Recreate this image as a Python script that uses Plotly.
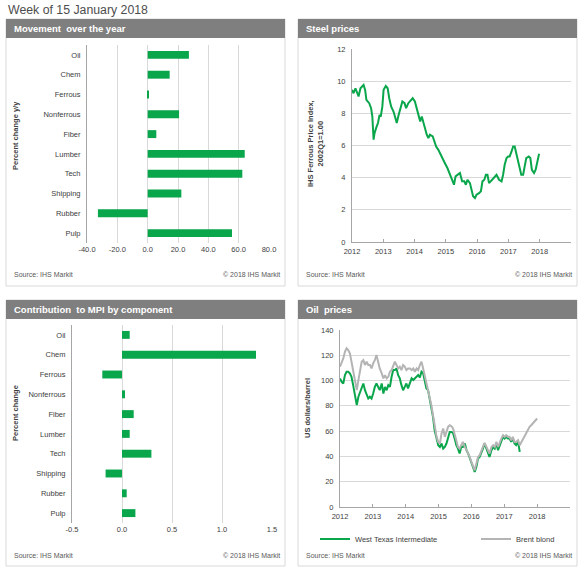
import plotly.graph_objects as go

W, H = 581, 574
FONT = "Liberation Sans, Arial, sans-serif"
GREEN = "#0aa64c"
GREY_LINE = "#b4b4b4"
GRID = "#d9d9d9"
TXT = "#404040"

# --- data ---
components = ["Oil", "Chem", "Ferrous", "Nonferrous", "Fiber",
              "Lumber", "Tech", "Shipping", "Rubber", "Pulp"]
movement_yoy = [27.2, 14.5, 0.5, 20.7, 5.7, 64.0, 62.4, 22.2, -32.8, 55.6]
contribution = [0.077, 1.34, -0.197, 0.03, 0.117, 0.077, 0.294, -0.164, 0.047, 0.134]

movement_ticks = [-40, -20, 0, 20, 40, 60, 80]
movement_ticktext = ["-40.0", "-20.0", "0.0", "20.0", "40.0", "60.0", "80.0"]
contribution_ticks = [-0.5, 0, 0.5, 1.0, 1.5]
contribution_ticktext = ["-0.5", "0.0", "0.5", "1.0", "1.5"]

steel_years = [2012.00, 2012.05, 2012.11, 2012.16, 2012.21, 2012.27, 2012.32, 2012.37, 2012.42, 2012.46,
               2012.50, 2012.55, 2012.61, 2012.65, 2012.69, 2012.72, 2012.77, 2012.83, 2012.88, 2012.92,
               2012.97, 2013.01, 2013.08, 2013.14, 2013.19, 2013.25, 2013.33, 2013.39, 2013.43, 2013.49,
               2013.54, 2013.61, 2013.68, 2013.73, 2013.80, 2013.88, 2013.94, 2014.01, 2014.07, 2014.13,
               2014.18, 2014.23, 2014.28, 2014.34, 2014.39, 2014.44, 2014.49, 2014.58, 2014.63, 2014.69,
               2014.76, 2014.83, 2014.90, 2014.97, 2015.05, 2015.11, 2015.18, 2015.26, 2015.31, 2015.38,
               2015.45, 2015.52, 2015.59, 2015.64, 2015.69, 2015.77, 2015.82, 2015.87, 2015.93, 2015.98,
               2016.06, 2016.12, 2016.17, 2016.23, 2016.28, 2016.33, 2016.38, 2016.46, 2016.53, 2016.62,
               2016.70, 2016.78, 2016.83, 2016.88, 2016.94, 2016.99, 2017.04, 2017.10, 2017.15, 2017.20,
               2017.25, 2017.31, 2017.36, 2017.41, 2017.47, 2017.52, 2017.57, 2017.65, 2017.70, 2017.75,
               2017.82, 2017.87, 2017.92, 2017.98]
steel_index = [9.46, 9.25, 9.56, 9.35, 9.05, 9.56, 9.67, 9.77, 9.46, 8.84,
               8.74, 8.63, 8.32, 7.8, 6.36, 6.77, 7.08, 7.4, 7.9, 7.8,
               8.43, 9.46, 9.7, 9.56, 8.94, 8.43, 8.1, 7.6, 7.4, 7.9,
               8.2, 8.74, 8.63, 8.32, 8.63, 8.84, 8.94, 8.74, 8.32, 7.9,
               7.5, 7.8, 7.4, 7.08, 6.67, 6.46, 6.67, 6.56, 6.25, 5.94,
               5.73, 5.42, 5.11, 4.9, 4.6, 4.29, 3.98, 3.56, 4.08, 4.18,
               4.29, 3.77, 3.77, 3.56, 3.87, 3.66, 3.15, 2.84, 2.73, 2.94,
               3.04, 3.15, 3.77, 3.87, 4.18, 4.18, 3.66, 3.87, 3.98, 4.18,
               3.87, 3.77, 4.18, 4.8, 5.22, 5.32, 5.32, 5.63, 5.94, 5.94,
               5.53, 4.9, 4.49, 4.18, 4.18, 4.7, 5.22, 5.32, 5.22, 4.49,
               4.29, 4.49, 5.0, 5.49]

oil_years = [2012.00, 2012.05, 2012.10, 2012.15, 2012.20, 2012.25, 2012.30, 2012.35, 2012.40, 2012.46,
             2012.51, 2012.56, 2012.61, 2012.66, 2012.71, 2012.76, 2012.81, 2012.86, 2012.91, 2012.96,
             2013.01, 2013.06, 2013.11, 2013.16, 2013.21, 2013.27, 2013.32, 2013.37, 2013.42, 2013.47,
             2013.52, 2013.57, 2013.62, 2013.67, 2013.72, 2013.77, 2013.82, 2013.87, 2013.92, 2013.97,
             2014.02, 2014.07, 2014.13, 2014.18, 2014.23, 2014.28, 2014.33, 2014.38, 2014.43, 2014.48,
             2014.53, 2014.58, 2014.63, 2014.68, 2014.73, 2014.78, 2014.83, 2014.88, 2014.94, 2014.99,
             2015.04, 2015.09, 2015.14, 2015.19, 2015.24, 2015.29, 2015.34, 2015.39, 2015.44, 2015.49,
             2015.54, 2015.59, 2015.64, 2015.69, 2015.74, 2015.80, 2015.85, 2015.90, 2015.95, 2016.00,
             2016.05, 2016.10, 2016.15, 2016.20, 2016.25, 2016.30, 2016.35, 2016.40, 2016.45, 2016.50,
             2016.55, 2016.61, 2016.66, 2016.71, 2016.76, 2016.81, 2016.86, 2016.91, 2016.96, 2017.01,
             2017.06, 2017.11, 2017.16, 2017.21, 2017.26, 2017.31, 2017.36, 2017.42, 2017.47, 2017.52,
             2017.57, 2017.62, 2017.67, 2017.72, 2017.77, 2017.82, 2017.87, 2017.92, 2017.97, 2018.00]
wti = [101.7, 99, 97.7, 104.3, 107, 107, 105.7, 103, 96.4, 87,
       80.6, 87.2, 91, 95, 97.7, 92.4, 88.5, 85.8, 87.2, 85.8,
       89.8, 95, 97.7, 95, 92.4, 97.7, 89.8, 95, 92.4, 96.4,
       95, 103, 108.3, 108.3, 109.6, 104.3, 101.7, 96.4, 92.4, 95,
       97.7, 93.8, 99, 101.7, 100.4, 101.7, 103, 104.3, 102.5, 107,
       105.7, 100.4, 93.8, 92.4, 85.8, 80.6, 71.3, 60.7, 54.1, 48.9,
       47.5, 50.2, 46.2, 47.5, 50.2, 55.5, 59.4, 59.4, 58.6, 54.1,
       48.9, 46.2, 42.3, 47.5, 47.5, 50.2, 44.9, 42.3, 38.3, 34.3,
       31.7, 27.7, 31.7, 38.3, 39.6, 42.3, 46.2, 50.2, 46.2, 43.6,
       39.6, 44.9, 47.5, 46.2, 50.2, 44.9, 48.9, 51.5, 55.5, 54.1,
       55.5, 54.1, 54.1, 51.5, 54.1, 50.2, 48.9, 51.5, 43.6]
brent = [111, 113.6, 117.5, 122.8, 125.5, 124.1, 121.5, 114.9, 108.3, 101.7,
         92.4, 100.4, 108.3, 114.9, 116.2, 112.3, 114.9, 112.3, 112.3, 109.6,
         113.6, 116.2, 120.2, 114.9, 109.6, 105.7, 101.7, 104.3, 101.7, 103,
         107, 108.3, 111, 114.9, 112.3, 109.6, 111, 108.3, 112.3, 111,
         108.3, 109.6, 109.6, 108.3, 109.6, 107, 109.6, 108.3, 112.3, 114.9,
         109.6, 104.3, 97.7, 92.4, 87.2, 80.6, 72.6, 63.4, 55.5, 51.5,
         50.2, 58.1, 62.1, 55.5, 59.4, 63.4, 64.7, 63.9, 62.1, 58.1,
         52.8, 47.5, 46.2, 48.9, 51.5, 47.5, 44.9, 42.3, 39.6, 35.7,
         33, 29, 34.3, 39.6, 40.9, 44.9, 47.5, 50.7, 47.5, 44.9,
         42.3, 47.5, 48.9, 47.5, 51.5, 47.5, 51.5, 54.1, 56.8, 55.5,
         56.8, 55.5, 55.5, 52.8, 55.5, 51.5, 51.5, 52.8, 48.9, 51.5,
         52.8, 55.5, 58.1, 60.7, 63.4, 64.7, 66, 67.4, 69.2, 70]
year_ticks = [2012, 2013, 2014, 2015, 2016, 2017, 2018]


def fx(px):
    return px / W


def fy(py):
    return 1 - py / H


fig = go.Figure()

fig.add_trace(go.Bar(x=movement_yoy, y=components, orientation="h", marker_color=GREEN,
                     xaxis="x", yaxis="y", showlegend=False))
fig.add_trace(go.Bar(x=contribution, y=components, orientation="h", marker_color=GREEN,
                     xaxis="x3", yaxis="y3", showlegend=False))
fig.add_trace(go.Scatter(x=steel_years, y=steel_index, mode="lines",
                         line=dict(color=GREEN, width=2), xaxis="x2", yaxis="y2", showlegend=False))
fig.add_trace(go.Scatter(x=oil_years[:len(wti)], y=wti, mode="lines", name="West Texas Intermediate",
                         line=dict(color=GREEN, width=2), xaxis="x4", yaxis="y4", legend="legend"))
fig.add_trace(go.Scatter(x=oil_years, y=brent, mode="lines", name="Brent blond",
                         line=dict(color=GREY_LINE, width=2), xaxis="x4", yaxis="y4", legend="legend2"))

tick_font = dict(family=FONT, size=7.5, color=TXT)

bar_x = dict(showgrid=True, gridcolor=GRID, gridwidth=1, zeroline=False, showline=False,
             tickfont=tick_font, ticks="", automargin=False)
bar_y = dict(type="category", categoryorder="array", categoryarray=components, autorange="reversed",
             showline=True, linecolor="#a6a6a6", showgrid=False, tickfont=tick_font,
             ticks="outside", ticklen=4, tickcolor="rgba(0,0,0,0)", automargin=False)
line_x = dict(range=[2012, 2019], tickvals=year_ticks, showgrid=False, zeroline=False,
              showline=True, linecolor="#a6a6a6", ticks="inside", ticklen=3, tickcolor="#a6a6a6",
              tickfont=tick_font, ticklabelstandoff=2, automargin=False)
line_y = dict(showgrid=True, gridcolor=GRID, zeroline=False, showline=True, linecolor="#a6a6a6",
              tickfont=tick_font, ticks="", ticklabelstandoff=4, automargin=False)

fig.update_layout(
    template="none",
    width=W, height=H,
    autosize=False,
    margin=dict(l=0, r=0, t=0, b=0, pad=0, autoexpand=False),
    paper_bgcolor="white", plot_bgcolor="white",
    font=dict(family=FONT, color=TXT),
    bargap=0.6,
    xaxis=dict(bar_x, domain=[fx(87), fx(269)], range=[-40, 80],
               tickvals=movement_ticks, ticktext=movement_ticktext, anchor="y"),
    yaxis=dict(bar_y, domain=[fy(243), fy(45)], anchor="x"),
    xaxis3=dict(bar_x, domain=[fx(72), fx(272)], range=[-0.5, 1.5],
                tickvals=contribution_ticks, ticktext=contribution_ticktext, anchor="y3"),
    yaxis3=dict(bar_y, domain=[fy(523), fy(325)], anchor="x3"),
    xaxis2=dict(line_x, domain=[fx(352), fx(571)], anchor="y2"),
    yaxis2=dict(line_y, domain=[fy(242), fy(49)], range=[0, 12], dtick=2, anchor="x2"),
    xaxis4=dict(line_x, domain=[fx(340), fx(570)], anchor="y4"),
    yaxis4=dict(line_y, domain=[fy(507), fy(330)], range=[0, 140], dtick=20, anchor="x4"),
    legend=dict(x=fx(315), y=fy(539), xanchor="left", yanchor="middle",
                font=dict(family=FONT, size=7.5, color=TXT), bgcolor="rgba(0,0,0,0)"),
    legend2=dict(x=fx(476), y=fy(539), xanchor="left", yanchor="middle",
                 font=dict(family=FONT, size=7.5, color=TXT), bgcolor="rgba(0,0,0,0)"),
)

# panel frames, grey header bars and footers
panels = [
    (6, 19, 285, 286, "Movement  over the year"),
    (298, 19, 577, 286, "Steel prices"),
    (6, 300, 285, 566, "Contribution  to MPI by component"),
    (298, 300, 577, 566, "Oil  prices"),
]
shapes = []
annotations = [dict(text="Week of 15 January 2018", x=fx(6), y=fy(10), xref="paper", yref="paper",
                    xanchor="left", yanchor="middle", showarrow=False,
                    font=dict(family=FONT, size=12.3, color="#4d4d4d"))]
for x0, y0, x1, y1, title in panels:
    shapes.append(dict(type="rect", xref="paper", yref="paper", x0=fx(x0), x1=fx(x1),
                       y0=fy(y1), y1=fy(y0), line=dict(color=GRID, width=1), fillcolor="rgba(0,0,0,0)"))
    shapes.append(dict(type="rect", xref="paper", yref="paper", x0=fx(x0), x1=fx(x1),
                       y0=fy(y0 + 19), y1=fy(y0), line=dict(width=0), fillcolor="#7f7f7f"))
    annotations.append(dict(text="<b>%s</b>" % title, x=fx(x0 + 6), y=fy(y0 + 9.5), xref="paper", yref="paper",
                            xanchor="left", yanchor="middle", showarrow=False,
                            font=dict(family=FONT, size=9.5, color="white")))
    annotations.append(dict(text="Source: IHS Markit", x=fx(x0 + 6), y=fy(y1 - 11), xref="paper", yref="paper",
                            xanchor="left", yanchor="middle", showarrow=False,
                            font=dict(family=FONT, size=7, color="#595959")))
    annotations.append(dict(text="© 2018 IHS Markit", x=fx(x1 - 3), y=fy(y1 - 11), xref="paper", yref="paper",
                            xanchor="right", yanchor="middle", showarrow=False,
                            font=dict(family=FONT, size=7, color="#595959")))

# y axis titles
y_titles = [
    ("Percent change y/y", 15, 136),
    ("IHS Ferrous Price Index,<br>2002Q1=1.00", 316, 144),
    ("Percent change", 15, 413),
    ("US dollars/barrel", 307, 408),
]
for text, x, y in y_titles:
    lines = text.split("<br>")
    annotations.append(dict(text="<br>".join("<b>%s</b>" % s for s in lines), x=fx(x), y=fy(y),
                            xref="paper", yref="paper", textangle=-90, showarrow=False,
                            xanchor="center", yanchor="middle",
                            font=dict(family=FONT, size=7.5, color=TXT)))

fig.update_layout(shapes=shapes, annotations=annotations)

# the page body has a default 8px margin; drop it so the 581x574 figure fills the window
fig.write_html("out.html", config={"displayModeBar": False},
               post_script="document.body.style.margin='0';")
